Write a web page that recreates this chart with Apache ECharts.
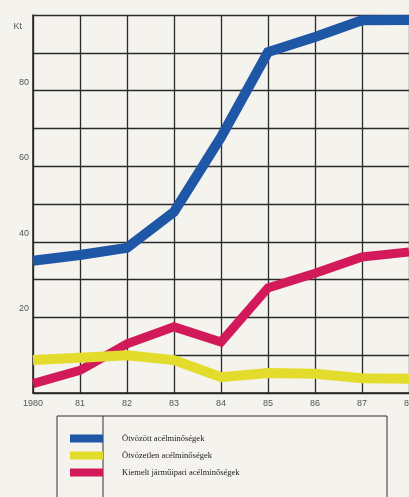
<!DOCTYPE html>
<html>
<head>
<meta charset="utf-8">
<script src="https://cdn.jsdelivr.net/npm/echarts@6/dist/echarts.min.js"></script>
<style>
  html, body { margin: 0; padding: 0; background: #f5f3ee; }
  #chart { width: 409px; height: 497px; }
</style>
</head>
<body>
<div id="chart"></div>
<script>
const years = ["1980", "81", "82", "83", "84", "85", "86", "87", "88"];
const otvozott = [35, 36.5, 38.4, 47.9, 67.7, 90.2, 94.2, 98.6, 98.7];
const otvozetlen = [8.7, 9.3, 10, 8.7, 4.2, 5.3, 5.1, 3.9, 3.8];
const kiemelt = [2.5, 6, 13, 17.5, 13.5, 27.8, 31.7, 36, 37.3];
const seriesNames = [
  "Ötvözött acélminőségek",
  "Ötvözetlen acélminőségek",
  "Kiemelt járműipari acélminőségek"
];
const yLabels = [20, 40, 60, 80];

const chart = echarts.init(document.getElementById("chart"));

// gridline at 10 only runs from the 83 column to the right in the original
const gridColors = ["#2b2b2b", "transparent", "#2b2b2b", "#2b2b2b", "#2b2b2b",
  "#2b2b2b", "#2b2b2b", "#2b2b2b", "#2b2b2b", "#2b2b2b", "#2b2b2b"];

const option = {
  backgroundColor: "#f5f3ee",
  animation: false,
  grid: { left: 33, top: 15, right: 0, bottom: 104, outerBoundsMode: "none", containLabel: false },
  legend: {
    orient: "vertical",
    left: 65,
    top: 429,
    icon: "rect",
    itemWidth: 33,
    itemHeight: 8,
    itemGap: 8,
    data: seriesNames,
    textStyle: {
      fontFamily: "Liberation Serif",
      fontSize: 8.5,
      color: "#222",
      padding: [0, 0, 0, 14]
    }
  },
  xAxis: {
    type: "category",
    data: years,
    boundaryGap: false,
    axisLine: { lineStyle: { color: "#222", width: 1.5 } },
    axisTick: { show: false },
    axisLabel: {
      margin: 6,
      fontFamily: "Liberation Sans",
      fontSize: 9,
      color: "#555",
      showMaxLabel: true
    },
    splitLine: { show: true, lineStyle: { color: "#2b2b2b", width: 1.3 } }
  },
  yAxis: {
    type: "value",
    min: 0,
    max: 100,
    interval: 10,
    name: "Kt",
    nameLocation: "end",
    nameGap: -12,
    nameTextStyle: {
      fontFamily: "Liberation Sans",
      fontSize: 9,
      color: "#555",
      align: "right",
      verticalAlign: "middle",
      padding: [0, 11, 0, 0]
    },
    axisLine: { show: true, lineStyle: { color: "#222", width: 1.5 } },
    axisTick: { show: false },
    axisLabel: {
      margin: 4,
      fontFamily: "Liberation Sans",
      fontSize: 9,
      color: "#555",
      verticalAlign: "bottom",
      padding: [0, 0, 4, 0],
      formatter: v => (yLabels.includes(v) ? String(v) : "")
    },
    splitLine: { show: true, lineStyle: { color: gridColors, width: 1.3 } }
  },
  series: [
    {
      name: seriesNames[0],
      type: "line",
      data: otvozott,
      symbol: "none",
      color: "#1d57a6",
      lineStyle: { width: 10, join: "miter", cap: "butt" },
      z: 3
    },
    {
      name: seriesNames[1],
      type: "line",
      data: otvozetlen,
      symbol: "none",
      color: "#e4dc2c",
      lineStyle: { width: 10, join: "miter", cap: "butt" },
      z: 5,
      markLine: {
        silent: true,
        symbol: "none",
        label: { show: false },
        lineStyle: { color: "#2b2b2b", width: 1.3, type: "solid" },
        z: 1,
        data: [[{ coord: ["83", 10] }, { coord: ["88", 10] }]]
      }
    },
    {
      name: seriesNames[2],
      type: "line",
      data: kiemelt,
      symbol: "none",
      color: "#d21a5a",
      lineStyle: { width: 9, join: "miter", cap: "butt" },
      z: 4
    }
  ],
  graphic: [
    {
      type: "rect",
      shape: { x: 57, y: 416, width: 330, height: 100 },
      style: { fill: "none", stroke: "#333", lineWidth: 1 }
    },
    {
      type: "line",
      shape: { x1: 103, y1: 416, x2: 103, y2: 497 },
      style: { stroke: "#333", lineWidth: 1 }
    }
  ]
};

chart.setOption(option);
</script>
</body>
</html>
